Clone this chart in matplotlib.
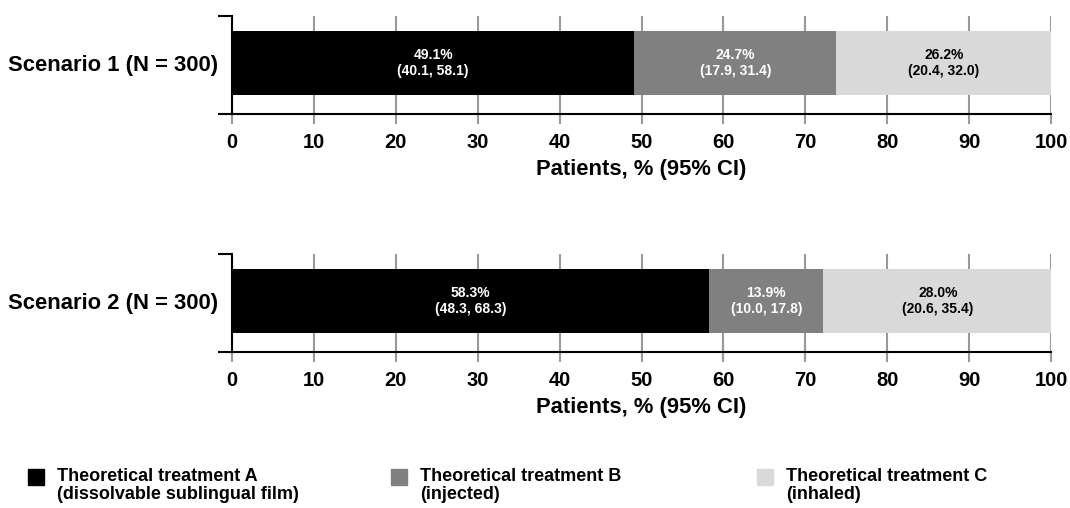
import matplotlib.pyplot as plt
from matplotlib.patches import Rectangle

plt.rcParams['font.family'] = ['Liberation Sans', 'DejaVu Sans']
plt.rcParams['font.weight'] = 'bold'

scenarios = ["Scenario 1 (N = 300)", "Scenario 2 (N = 300)"]
treatments = ["Theoretical treatment A\n(dissolvable sublingual film)",
              "Theoretical treatment B\n(injected)",
              "Theoretical treatment C\n(inhaled)"]
colors = ["#000000", "#808080", "#d9d9d9"]
text_colors = ["white", "white", "black"]

# percent of patients per treatment, per scenario
pct = [[49.1, 24.7, 26.2],
       [58.3, 13.9, 28.0]]
ci_low = [[40.1, 17.9, 20.4],
          [48.3, 10.0, 20.6]]
ci_high = [[58.1, 31.4, 32.0],
           [68.3, 17.8, 35.4]]

fig = plt.figure(figsize=(10.7, 5.08), dpi=100)
W, H = 1070, 508

def px_axes(left, top, right, bottom):
    return fig.add_axes([left / W, (H - bottom) / H, (right - left) / W, (bottom - top) / H])

axes = [px_axes(232, 16, 1051, 114), px_axes(232, 254, 1051, 352)]

for i, ax in enumerate(axes):
    left = 0
    for j in range(3):
        ax.barh(0, pct[i][j], left=left, height=0.653, color=colors[j], zorder=2)
        ax.text(left + pct[i][j] / 2, 0,
                f"{pct[i][j]:.1f}%\n({ci_low[i][j]:.1f}, {ci_high[i][j]:.1f})",
                ha="center", va="center", color=text_colors[j], fontsize=10,
                fontweight="bold", linespacing=1.25, zorder=3)
        left += pct[i][j]
    ax.set_xlim(0, 100)
    ax.set_ylim(-0.52, 0.48)
    ax.set_xticks(range(0, 101, 10))
    ax.xaxis.grid(True, color="#999999", linewidth=1.5, zorder=0)
    ax.tick_params(axis="x", length=7, width=1.5, color="#999999", labelsize=14.5, pad=7)
    ax.xaxis.get_major_ticks()[0].tick1line.set_color("black")
    for lab in ax.get_xticklabels():
        lab.set_fontweight("bold")
    ax.set_yticks([0])
    ax.set_yticklabels([scenarios[i]], fontsize=15.8, fontweight="bold")
    ax.tick_params(axis="y", which="major", length=0, pad=10)
    ax.set_yticks([-0.52, 0.48], minor=True)
    ax.tick_params(axis="y", which="minor", length=10, width=1.5, color="black")
    ax.spines["top"].set_visible(False)
    ax.spines["right"].set_visible(False)
    ax.spines["left"].set_linewidth(1.5)
    ax.spines["bottom"].set_linewidth(1.5)
    ax.set_xlabel("Patients, % (95% CI)", fontsize=15.8, fontweight="bold", labelpad=5)

# legend drawn by hand to match the three-column layout
legend_x = [28, 391, 757]
for j in range(3):
    x = legend_x[j]
    fig.patches.append(Rectangle((x / W, (H - 485) / H), 16 / W, 16 / H,
                                 transform=fig.transFigure, color=colors[j]))
    fig.text((x + 29) / W, (H - 468) / H, treatments[j], ha="left", va="top",
             fontsize=13, fontweight="bold", linespacing=1.1)

fig.savefig("out.png", dpi=100)
